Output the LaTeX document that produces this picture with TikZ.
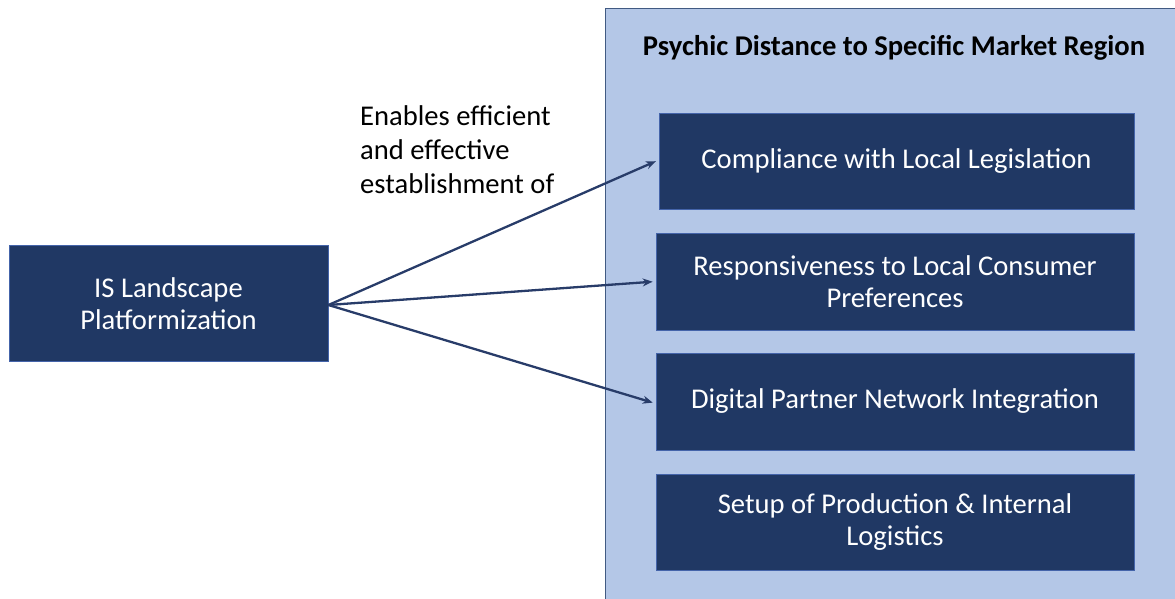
\documentclass[tikz,border=0pt]{standalone}
\usepackage{fontspec}
\setmainfont{Carlito}
\usetikzlibrary{arrows.meta}
\definecolor{regionfill}{RGB}{180,199,231}
\definecolor{regionline}{RGB}{65,90,130}
\definecolor{boxfill}{RGB}{32,56,100}
\definecolor{boxline}{RGB}{68,100,170}
\definecolor{arrowcol}{RGB}{40,60,105}
\tikzset{
  darkbox/.style={draw=boxline, line width=0.8pt, fill=boxfill, text=white, align=center,
    font=\fontsize{28.6}{32.5}\selectfont, inner sep=0pt},
  link/.style={draw=arrowcol, line width=2.3pt, -{Stealth[length=10pt,width=8pt]}, shorten >=3pt}
}
\begin{document}
\begin{tikzpicture}[x=1pt,y=-1pt]
\useasboundingbox (0,0) rectangle (1175,599);
% region
\node[draw=regionline, line width=0.8pt, fill=regionfill, minimum width=580pt, minimum height=600pt, anchor=north west, inner sep=0pt] (region) at (605,8) {};
\node[font=\fontsize{28.6}{32}\selectfont\bfseries, inner sep=0pt] (title) at (894,48) {Psychic Distance to Specific Market Region};
% boxes
\node[darkbox, minimum width=475pt, minimum height=96pt] (b1) at (896.5,161) {Compliance with Local Legislation};
\node[darkbox, minimum width=478pt, minimum height=97pt] (b2) at (895,281.5) {Responsiveness to Local Consumer\\Preferences};
\node[darkbox, minimum width=478pt, minimum height=97pt] (b3) at (895,401.5) {Digital Partner Network Integration};
\node[darkbox, minimum width=478pt, minimum height=96pt] (b4) at (895,522) {Setup of Production \& Internal\\Logistics};
\node[darkbox, minimum width=319pt, minimum height=116pt] (src) at (168.5,303.5) {IS Landscape\\Platformization};
% label
\node[anchor=west, align=left, inner sep=0pt, font=\fontsize{28.6}{34}\selectfont] (lbl) at (360,150) {Enables efficient\\and effective\\establishment of};
% arrows
\draw[link] ([yshift=-1.5pt]src.east) -- ([yshift=1pt]b1.west);
\draw[link] ([yshift=-1.5pt]src.east) -- (b2.west);
\draw[link] ([yshift=-1.5pt]src.east) -- ([yshift=-2pt]b3.west);
\end{tikzpicture}
\end{document}
